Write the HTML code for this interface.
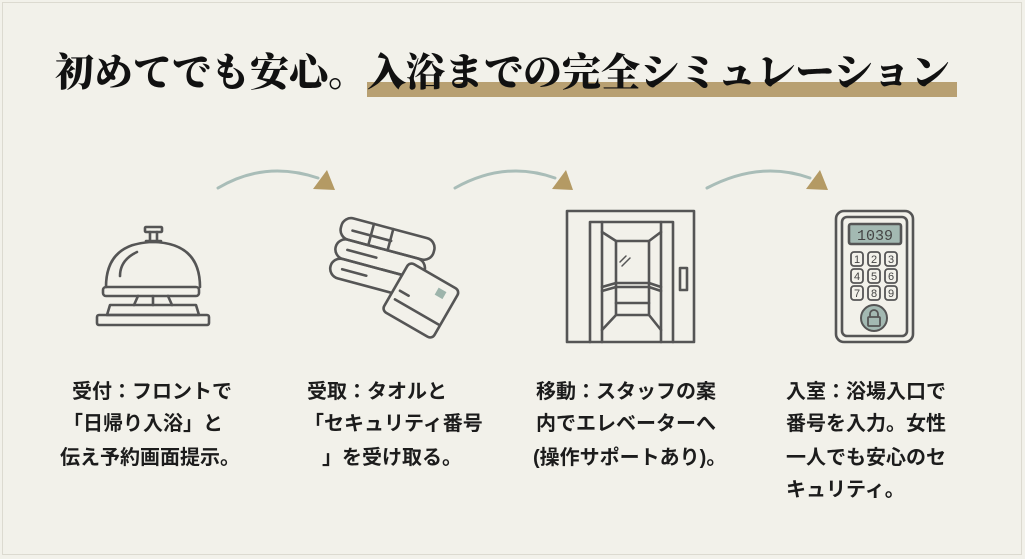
<!DOCTYPE html>
<html><head><meta charset="utf-8"><style>
html,body{margin:0;padding:0;}
body{width:1025px;height:559px;background:#f2f1ea;position:relative;overflow:hidden;font-family:"Liberation Sans","Noto Sans CJK JP",sans-serif;}
.t{position:absolute;font-size:20px;font-weight:bold;color:#1c1c1c;white-space:nowrap;line-height:1;}
.title{position:absolute;left:55px;top:54px;font-family:"Liberation Serif","Noto Serif CJK SC",serif;font-weight:900;font-size:39px;color:#111;white-space:nowrap;letter-spacing:0;line-height:1;}
</style></head><body>
<div style="position:absolute;left:2px;top:2px;right:3px;bottom:4px;border:1px solid #dcdad0;"></div>
<div style="position:absolute;left:367px;top:82px;width:590px;height:15px;background:#b8a072;"></div>
<div class="title">初めてでも安心。入浴までの完全シミュレーション</div>
<svg width="1025" height="559" style="position:absolute;left:0;top:0" fill="none" stroke="#555" stroke-width="2.6" stroke-linecap="round" stroke-linejoin="round">
<g stroke="#a9bdb8" stroke-width="3">
<path d="M218 188 Q265 160 318 178"/>
<path d="M455 188 Q505 160 555 178"/>
<path d="M707 188 Q760 160 810 178"/>
</g>
<g fill="#b49a64" stroke="none">
<polygon points="313,189 335,190 327,170"/>
<polygon points="552,189 573,190 566,170"/>
<polygon points="806,189 828,190 820,170"/>
</g>
<!-- bell -->
<rect x="145" y="227" width="17" height="5" rx="1"/>
<path d="M150 232 v8 M157 232 v8 M146 241 h15"/>
<path d="M106 287 Q106 243 153 242 Q200 243 200 287"/>
<path d="M120 276 Q120 260 137 252"/>
<rect x="103" y="287" width="96" height="9" rx="3"/>
<path d="M138 296 l-4 9 M153 296 v9 M168 296 l4 9"/>
<path d="M110 305 h86 l3 10 h-92 z"/>
<rect x="97" y="315" width="112" height="10" rx="2"/>
<!-- towels -->
<g transform="rotate(15 385 260)">
<rect x="334" y="228" width="96" height="22" rx="10"/>
<rect x="334" y="250" width="92" height="20" rx="10"/>
<rect x="334" y="270" width="88" height="20" rx="10"/>
<path d="M365 228 v22 M385 228 v22"/>
<path d="M346 240 h40 M346 260 h30 M346 280 h25"/>
</g>
<g transform="rotate(30 420 300)"><rect x="392" y="272" width="58" height="56" rx="5" fill="#f2f1ea"/><rect x="430" y="280" width="9" height="8" fill="#9db4ab" stroke="none"/><path d="M398 302 h10 M398 312 h50"/></g>
<!-- elevator -->
<rect x="567" y="211" width="127" height="131"/>
<path d="M590 342 V222 H673 V342"/>
<path d="M602 342 V222 M661 342 V222"/>
<rect x="616" y="241" width="33" height="62"/>
<path d="M602 232 L616 241 M661 232 L649 241 M602 330 L616 315 M661 330 L649 315 M616 303 V315 H649 V303"/>
<path d="M602 287 L616 283 H649 L661 287 M602 291 L616 287 H649 L661 291"/>
<path d="M620 262 l6 -6 M622 266 l8 -8" stroke-width="1.5"/>
<rect x="680" y="268" width="7" height="22"/>
<!-- keypad -->
<rect x="836" y="211" width="77" height="131" rx="8"/>
<rect x="842" y="217" width="65" height="119" rx="5"/>
<rect x="849" y="224" width="52" height="20" rx="2" fill="#a3b9b2"/>
<text x="875" y="240" text-anchor="middle" font-size="15" fill="#444" stroke="none" font-family="Liberation Mono,monospace">1039</text>
<g stroke-width="1.8">
<rect x="851" y="252" width="12" height="14" rx="3"/><rect x="868" y="252" width="12" height="14" rx="3"/><rect x="885" y="252" width="12" height="14" rx="3"/>
<rect x="851" y="269" width="12" height="14" rx="3"/><rect x="868" y="269" width="12" height="14" rx="3"/><rect x="885" y="269" width="12" height="14" rx="3"/>
<rect x="851" y="286" width="12" height="14" rx="3"/><rect x="868" y="286" width="12" height="14" rx="3"/><rect x="885" y="286" width="12" height="14" rx="3"/>
</g>
<g font-size="11" fill="#444" stroke="none" text-anchor="middle" font-family="Liberation Sans,sans-serif">
<text x="857" y="263">1</text><text x="874" y="263">2</text><text x="891" y="263">3</text>
<text x="857" y="280">4</text><text x="874" y="280">5</text><text x="891" y="280">6</text>
<text x="857" y="297">7</text><text x="874" y="297">8</text><text x="891" y="297">9</text>
</g>
<circle cx="874" cy="318" r="13" fill="#a3b9b2" stroke="#555" stroke-width="2"/>
<rect x="868" y="317" width="12" height="9" rx="1" stroke-width="1.8"/>
<path d="M870 317 v-3 a4 4 0 0 1 8 0 v3" stroke-width="1.8"/>
</svg>
<div class="t" style="left:72px;top:382px">受付：フロントで</div>
<div class="t" style="left:63px;top:414px">「日帰り入浴」と</div>
<div class="t" style="left:60px;top:448px">伝え予約画面提示。</div>
<div class="t" style="left:307px;top:382px">受取：タオルと</div>
<div class="t" style="left:304px;top:414px">「セキュリティ番号</div>
<div class="t" style="left:322px;top:448px">」を受け取る。</div>
<div class="t" style="left:536px;top:382px">移動：スタッフの案</div>
<div class="t" style="left:536px;top:414px">内でエレベーターへ</div>
<div class="t" style="left:533px;top:448px">(操作サポートあり)。</div>
<div class="t" style="left:786px;top:382px">入室：浴場入口で</div>
<div class="t" style="left:786px;top:414px">番号を入力。女性</div>
<div class="t" style="left:786px;top:448px">一人でも安心のセ</div>
<div class="t" style="left:786px;top:480px">キュリティ。</div>
</body></html>
